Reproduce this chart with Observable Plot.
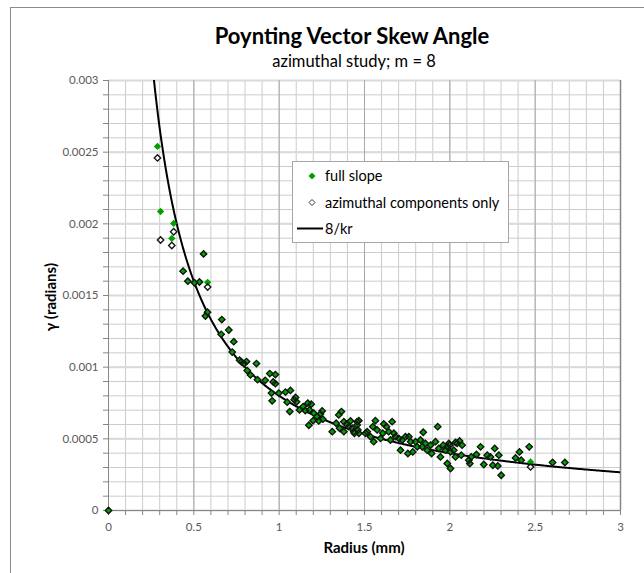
<!DOCTYPE html>
<html><head><meta charset="utf-8">
<script src="https://cdn.jsdelivr.net/npm/d3@7"></script>
<script src="https://cdn.jsdelivr.net/npm/@observablehq/plot@0.6"></script>
<style>
body{margin:0;width:644px;height:573px;overflow:hidden;background:#fff;font-family:Lato,"Open Sans",sans-serif;position:relative}
#frame{position:absolute;left:10px;top:7px;width:700px;height:600px;border-left:1px solid #8c8c8c;border-top:1px solid #8c8c8c}
#chart{position:absolute;left:0;top:0}
#texts{position:absolute;left:0;top:0;pointer-events:none}
#legend{position:absolute;left:292px;top:161px;width:215px;height:80px;border:1px solid #a6a6a6;background:#fff}
#legend .t{position:absolute;left:32px;font-size:14.5px;line-height:15px;white-space:nowrap;color:#000}
#legend svg{position:absolute;left:0;top:0}
</style></head>
<body>
<div id="frame"></div>
<div id="chart"></div>
<svg id="texts" width="644" height="573" font-family="Lato, sans-serif">
  <text x="352" y="44" text-anchor="middle" font-weight="bold" font-size="22">Poynting Vector Skew Angle</text>
  <text x="354" y="66.5" text-anchor="middle" font-size="16.5">azimuthal study; m = 8</text>
  <text x="364" y="553" text-anchor="middle" font-weight="bold" font-size="15">Radius (mm)</text>
  <text transform="translate(56,297) rotate(-90)" text-anchor="middle" font-weight="bold" font-size="15">γ (radians)</text>
</svg>
<div id="legend">
  <svg width="215" height="80">
    <path d="M19,10.5 L22.5,14 L19,17.5 L15.5,14Z" fill="#00a000"/>
    <path d="M19,37.5 L22,40.5 L19,43.5 L16,40.5Z" fill="none" stroke="#333" stroke-width="1"/>
    <line x1="4" x2="30" y1="66.5" y2="66.5" stroke="#000" stroke-width="2"/>
  </svg>
  <div class="t" style="top:6px">full slope</div>
  <div class="t" style="top:33px">azimuthal components only</div>
  <div class="t" style="top:59px">8/kr</div>
</div>
<script>
// tick values and labels
const xTicks = [0, 0.5, 1, 1.5, 2, 2.5, 3];
const xTickLabels = ["0", "0.5", "1", "1.5", "2", "2.5", "3"];
const yTicks = [0, 0.0005, 0.001, 0.0015, 0.002, 0.0025, 0.003];
const yTickLabels = ["0", "0.0005", "0.001", "0.0015", "0.002", "0.0025", "0.003"];
const xMinor = d3.ticks(0, 3, 30);
const yMinor = d3.ticks(0, 0.003, 30);

// radius (mm)
const radius = [0,
 0.287, 0.305, 0.371, 0.382, 0.581, 2.473,
 0.437, 0.465, 0.504, 0.533, 0.557, 0.568, 0.580, 0.660, 0.664, 0.705,
 0.725, 0.734, 0.768, 0.779, 0.793, 0.809, 0.813, 0.832, 0.867, 0.873,
 0.918, 0.945, 0.955, 0.959, 0.965, 0.978, 0.978, 0.998, 1.037, 1.047,
 1.062, 1.066, 1.088, 1.096, 1.102, 1.119, 1.141, 1.153, 1.168, 1.174,
 1.178, 1.188, 1.199, 1.203, 1.223, 1.232, 1.242, 1.252, 1.256, 1.311,
 1.334, 1.349, 1.354, 1.365, 1.379, 1.379, 1.395, 1.408, 1.418, 1.428,
 1.437, 1.441, 1.457, 1.457, 1.461, 1.467, 1.467, 1.506, 1.516, 1.535,
 1.549, 1.554, 1.564, 1.574, 1.594, 1.607, 1.613, 1.629, 1.642, 1.652,
 1.662, 1.672, 1.682, 1.701, 1.711, 1.721, 1.740, 1.754, 1.760, 1.770,
 1.783, 1.799, 1.809, 1.828, 1.838, 1.844, 1.857, 1.867, 1.887, 1.893,
 1.916, 1.929, 1.935, 1.945, 1.961, 1.975, 1.985, 1.985, 1.994, 2.000,
 2.004, 2.004, 2.023, 2.033, 2.033, 2.043, 2.057, 2.067, 2.072, 2.111,
 2.117, 2.125, 2.156, 2.180, 2.199, 2.219, 2.238, 2.252, 2.263, 2.281,
 2.287, 2.301, 2.385, 2.408, 2.418, 2.465, 2.602, 2.674];

// gamma (radians), full slope
const fullSlope = [0,
 0.00254, 0.002086, 0.001898, 0.002003, 0.001592, 0.000339,
 0.00167, 0.0016, 0.001589, 0.001594, 0.00179, 0.001357, 0.001383, 0.001229, 0.001332, 0.001259,
 0.001105, 0.001178, 0.001049, 0.001037, 0.001025, 0.001039, 0.000976, 0.000946, 0.001025, 0.000913,
 0.000908, 0.000955, 0.000819, 0.000765, 0.000897, 0.000948, 0.000885, 0.000819, 0.000826, 0.000756,
 0.00069, 0.000838, 0.000772, 0.000789, 0.000758, 0.000702, 0.000725, 0.000697, 0.000749, 0.000595,
 0.000702, 0.000742, 0.000627, 0.000679, 0.000655, 0.000625, 0.000674, 0.000695, 0.000637, 0.00055,
 0.000609, 0.000667, 0.000574, 0.00069, 0.00062, 0.00055, 0.000602, 0.000585, 0.000625, 0.000574,
 0.00055, 0.000539, 0.00062, 0.000597, 0.000562, 0.000627, 0.000539, 0.000539, 0.00055, 0.000515,
 0.000585, 0.00048, 0.000627, 0.000562, 0.000503, 0.000539, 0.000604, 0.000585, 0.00055, 0.000492,
 0.00062, 0.000539, 0.000515, 0.000503, 0.000421, 0.000492, 0.000515, 0.000398, 0.000515, 0.00048,
 0.000409, 0.00048, 0.000444, 0.000492, 0.000444, 0.000546, 0.000468, 0.000421, 0.000456, 0.000398,
 0.00048, 0.000585, 0.000433, 0.000374, 0.000456, 0.000421, 0.000328, 0.000444, 0.000468, 0.000456,
 0.000293, 0.000409, 0.000421, 0.000475, 0.000374, 0.000468, 0.000485, 0.000386, 0.000456, 0.000351,
 0.000328, 0.000374, 0.000391, 0.000444, 0.000321, 0.000386, 0.000374, 0.000316, 0.000433, 0.000311,
 0.000386, 0.000246, 0.000367, 0.000409, 0.000351, 0.000444, 0.000335, 0.000335];

// gamma (radians), azimuthal components only
const azimuthal = [0,
 0.00246, 0.001887, 0.001849, 0.001945, 0.001559, 0.000304,
 0.00167, 0.0016, 0.001589, 0.001594, 0.00179, 0.001357, 0.001383, 0.001229, 0.001332, 0.001259,
 0.001105, 0.001178, 0.001049, 0.001037, 0.001025, 0.001039, 0.000976, 0.000946, 0.001025, 0.000913,
 0.000908, 0.000955, 0.000819, 0.000765, 0.000897, 0.000948, 0.000885, 0.000819, 0.000826, 0.000756,
 0.00069, 0.000838, 0.000772, 0.000789, 0.000758, 0.000702, 0.000725, 0.000697, 0.000749, 0.000595,
 0.000702, 0.000742, 0.000627, 0.000679, 0.000655, 0.000625, 0.000674, 0.000695, 0.000637, 0.00055,
 0.000609, 0.000667, 0.000574, 0.00069, 0.00062, 0.00055, 0.000602, 0.000585, 0.000625, 0.000574,
 0.00055, 0.000539, 0.00062, 0.000597, 0.000562, 0.000627, 0.000539, 0.000539, 0.00055, 0.000515,
 0.000585, 0.00048, 0.000627, 0.000562, 0.000503, 0.000539, 0.000604, 0.000585, 0.00055, 0.000492,
 0.00062, 0.000539, 0.000515, 0.000503, 0.000421, 0.000492, 0.000515, 0.000398, 0.000515, 0.00048,
 0.000409, 0.00048, 0.000444, 0.000492, 0.000444, 0.000546, 0.000468, 0.000421, 0.000456, 0.000398,
 0.00048, 0.000585, 0.000433, 0.000374, 0.000456, 0.000421, 0.000328, 0.000444, 0.000468, 0.000456,
 0.000293, 0.000409, 0.000421, 0.000475, 0.000374, 0.000468, 0.000485, 0.000386, 0.000456, 0.000351,
 0.000328, 0.000374, 0.000391, 0.000444, 0.000321, 0.000386, 0.000374, 0.000316, 0.000433, 0.000311,
 0.000386, 0.000246, 0.000367, 0.000409, 0.000351, 0.000444, 0.000335, 0.000335];

// theoretical curve 8/kr
const curveCoef = 0.0008;
const curveR = d3.range(0.26, 3.0001, 0.005);
const curve = curveR.map(r => ({r, g: curveCoef / r}));

const fullData = radius.map((r, i) => ({r, g: fullSlope[i]}));
const azData = radius.map((r, i) => ({r, g: azimuthal[i]}));

const chart = Plot.plot({
  width: 644, height: 573,
  marginLeft: 108, marginRight: 24, marginTop: 80, marginBottom: 63,
  x: {domain: [0, 3], label: null},
  y: {domain: [0, 0.003], label: null},
  style: {fontFamily: "Lato, sans-serif", background: "transparent", overflow: "visible"},
  marks: [
    Plot.ruleX(xMinor, {stroke: "#cccccc", strokeWidth: 1}),
    Plot.ruleY(yMinor, {stroke: "#cccccc", strokeWidth: 1}),
    Plot.ruleY(yTicks, {stroke: "#dadada", strokeWidth: 2}),
    Plot.ruleX(xTicks, {stroke: "#a8a8a8", strokeWidth: 1}),
    Plot.axisX({ticks: xMinor, tickSize: 5, tickFormat: () => "", stroke: "#868686", anchor: "bottom", label: null}),
    Plot.axisY({ticks: yMinor, tickSize: 5, tickFormat: () => "", stroke: "#868686", anchor: "left", label: null}),
    Plot.axisX({ticks: xTicks, tickSize: 0, tickPadding: 12, tickFormat: d => xTickLabels[xTicks.indexOf(d)], fontSize: 11.5, fill: "#595959", anchor: "bottom", label: null}),
    Plot.axisY({ticks: yTicks, tickSize: 0, tickPadding: 10, tickFormat: d => yTickLabels[yTicks.indexOf(d)], fontSize: 11.5, fill: "#595959", anchor: "left", label: null}),
    Plot.ruleY([0], {stroke: "#868686", strokeWidth: 1}),
    Plot.ruleX([0], {stroke: "#868686", strokeWidth: 1}),
    Plot.ruleX([3], {stroke: "#868686", strokeWidth: 1.5}),
    Plot.line(curve, {x: "r", y: "g", stroke: "#000", strokeWidth: 2, clip: true}),
    Plot.dot(fullData, {x: "r", y: "g", symbol: "diamond2", r: 3.3, fill: "#00a000"}),
    Plot.dot(azData, {x: "r", y: "g", symbol: "diamond2", r: 2.9, fill: "none", stroke: "#141414", strokeWidth: 1.35})
  ]
});
document.getElementById("chart").appendChild(chart);
</script>
</body></html>
